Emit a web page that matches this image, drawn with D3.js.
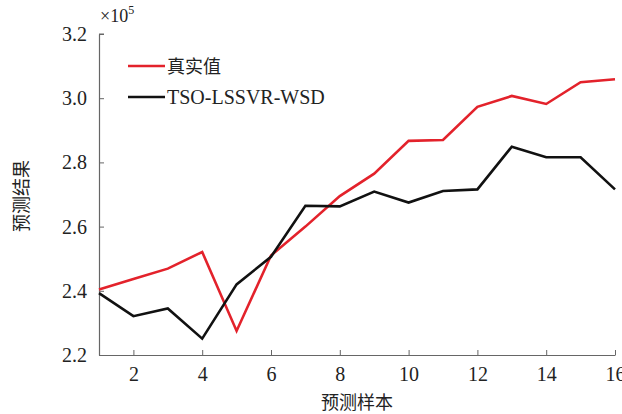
<!DOCTYPE html>
<html><head><meta charset="utf-8">
<script src="https://cdn.jsdelivr.net/npm/d3@7"></script>
<style>
html,body{margin:0;padding:0;background:#fff;}
svg text.serif{font-family:"Liberation Serif","Times New Roman","DejaVu Serif",serif;}
svg text.cjk{font-family:"Noto Sans CJK SC","Noto Sans CJK JP",sans-serif;}
</style></head><body>
<svg id="c" width="622" height="414"></svg>
<script>
const samples = [1,2,3,4,5,6,7,8,9,10,11,12,13,14,15,16];
const actual = [2.404,2.437,2.469,2.521,2.275,2.510,2.600,2.695,2.765,2.867,2.870,2.973,3.007,2.982,3.050,3.059];
const predicted = [2.393,2.321,2.345,2.251,2.420,2.506,2.665,2.663,2.709,2.675,2.711,2.716,2.849,2.816,2.816,2.716];
const xTicks = [2,4,6,8,10,12,14,16];
const yTicks = [2.2,2.4,2.6,2.8,3.0,3.2];
const seriesNames = ["真实值","TSO-LSSVR-WSD"];
const colors = ["#e3222b","#111111"];

const svg = d3.select("#c");
const m = {l:99, r:615, t:34, b:355};
const x = d3.scaleLinear().domain([1,16]).range([m.l, m.r]);
const y = d3.scaleLinear().domain([2.2,3.2]).range([m.b, m.t]);

const axisColor = "#666";
const gx = svg.append("g").attr("transform",`translate(0,${m.b})`)
  .call(d3.axisBottom(x).tickValues(xTicks).tickSizeInner(-5).tickSizeOuter(0).tickPadding(12).tickFormat(d3.format("d")));
gx.attr("font-family",null).attr("font-size",null);
gx.select(".domain").attr("stroke",axisColor).attr("stroke-width",1.2);
gx.selectAll(".tick line").attr("stroke",axisColor);
gx.selectAll("text").attr("class","serif").attr("font-size",20).attr("fill","#222");

const gy = svg.append("g").attr("transform",`translate(${m.l},0)`)
  .call(d3.axisLeft(y).tickValues(yTicks).tickSizeInner(-5).tickSizeOuter(0).tickPadding(12).tickFormat(d3.format(".1f")));
gy.attr("font-family",null).attr("font-size",null);
gy.select(".domain").attr("stroke",axisColor).attr("stroke-width",1.2);
gy.selectAll(".tick line").attr("stroke",axisColor);
gy.selectAll("text").attr("class","serif").attr("font-size",20).attr("fill","#222");
svg.append("line").attr("x1",m.l).attr("x2",m.l+5).attr("y1",m.t).attr("y2",m.t).attr("stroke",axisColor);

const ex = svg.append("text").attr("class","serif").attr("x",100).attr("y",22).attr("font-size",18).attr("fill","#222");
ex.append("tspan").text("×10");
ex.append("tspan").text("5").attr("font-size",12).attr("dy",-8);

const line = d3.line().x((d,i)=>x(samples[i])).y(d=>y(d));
[actual,predicted].forEach((s,k)=>{
  svg.append("path").datum(s).attr("d",line).attr("fill","none")
    .attr("stroke",colors[k]).attr("stroke-width",2.6).attr("stroke-linejoin","miter");
});

seriesNames.forEach((n,k)=>{
  const ly = 66 + k*31;
  svg.append("line").attr("x1",128).attr("x2",165).attr("y1",ly).attr("y2",ly)
    .attr("stroke",colors[k]).attr("stroke-width",2.6);
  svg.append("text").attr("x",167).attr("y",ly+7)
    .attr("class", k===0 ? "cjk" : "serif")
    .attr("font-size", k===0 ? 18 : 20).attr("fill","#222")
    .text(n);
});

svg.append("text").attr("class","cjk").attr("x",357).attr("y",409).attr("text-anchor","middle")
  .attr("font-size",18).attr("fill","#222").text("预测样本");
svg.append("text").attr("class","cjk").attr("transform","translate(28,196) rotate(-90)")
  .attr("text-anchor","middle").attr("font-size",18).attr("fill","#222").text("预测结果");
</script></body></html>
